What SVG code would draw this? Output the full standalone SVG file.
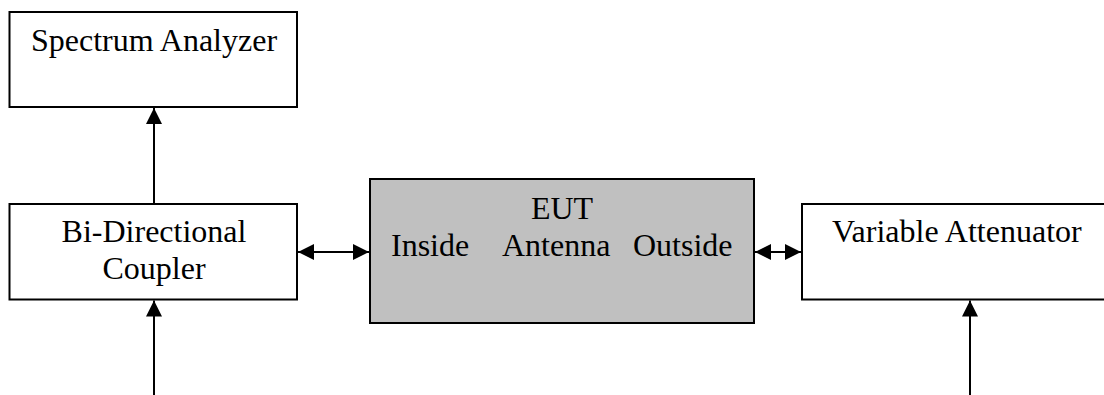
<svg xmlns="http://www.w3.org/2000/svg" width="1104" height="395" viewBox="0 0 1104 395">
<style>
.box{fill:#fff;stroke:#000;stroke-width:2}
.eut{fill:#c0c0c0;stroke:#000;stroke-width:2}
.t{font-family:"Liberation Serif","Times New Roman",serif;font-size:32px;fill:#000}
.c{text-anchor:middle}
.ln{stroke:#000;stroke-width:2;fill:none}
</style>
<defs>
<marker id="ah" markerUnits="userSpaceOnUse" markerWidth="16" markerHeight="16" viewBox="0 0 16 16" refX="16" refY="8" orient="auto-start-reverse">
<path d="M0,0 L16,8 L0,16 Z" fill="#000"/>
</marker>
</defs>
<rect width="1104" height="395" fill="#fff"/>
<g id="spectrum-analyzer">
<rect class="box" x="9.5" y="12" width="287.5" height="95"/>
<text class="t c" x="154" y="51">Spectrum Analyzer</text>
</g>
<g id="coupler">
<rect class="box" x="9.5" y="204" width="287.5" height="95.5"/>
<text class="t c" x="154" y="242">Bi-Directional</text>
<text class="t c" x="154" y="279">Coupler</text>
</g>
<g id="eut">
<rect class="eut" x="370" y="179" width="384" height="144"/>
<text class="t c" x="562" y="219">EUT</text>
<text class="t" x="391" y="256">Inside</text>
<text class="t" x="502" y="256">Antenna</text>
<text class="t" x="633" y="256">Outside</text>
</g>
<g id="variable-attenuator">
<rect class="box" x="802" y="204" width="320" height="95.5"/>
<text class="t" x="832" y="242">Variable Attenuator</text>
</g>
<g id="connectors">
<line class="ln" x1="154" y1="203" x2="154" y2="108" marker-end="url(#ah)"/>
<line class="ln" x1="154" y1="395" x2="154" y2="300.5" marker-end="url(#ah)"/>
<line class="ln" x1="970" y1="395" x2="970" y2="300.5" marker-end="url(#ah)"/>
<line class="ln" x1="298" y1="252" x2="369" y2="252" marker-start="url(#ah)" marker-end="url(#ah)"/>
<line class="ln" x1="755" y1="252" x2="801" y2="252" marker-start="url(#ah)" marker-end="url(#ah)"/>
</g>
</svg>
